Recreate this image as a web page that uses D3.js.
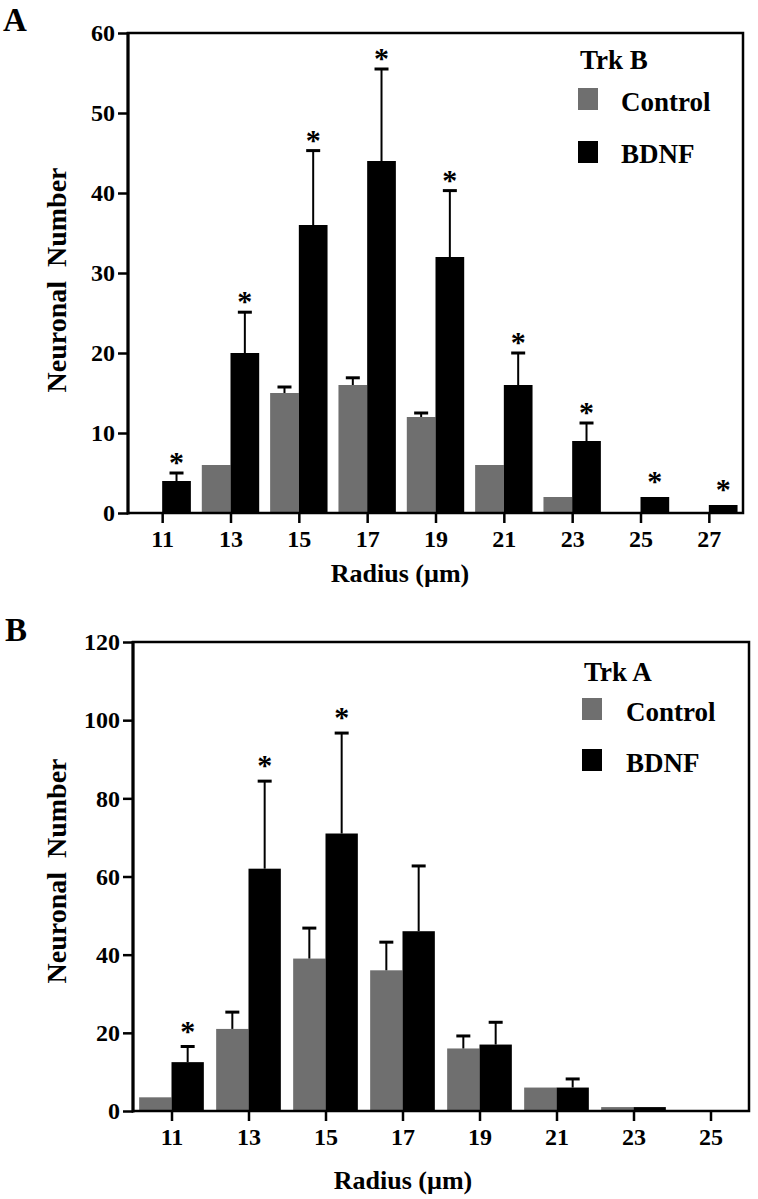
<!DOCTYPE html>
<html><head><meta charset="utf-8">
<script src="https://cdn.jsdelivr.net/npm/d3@7"></script>
<style>body{margin:0;background:#fff}svg{display:block}text{font-family:"Liberation Serif","Times New Roman",serif;font-weight:bold;fill:#000}</style>
</head><body>
<script>
// Panel A (Trk B)
const radiiA = [11,13,15,17,19,21,23,25,27];
const controlA = [0,6,15,16,12,6,2,0,0];
const controlErrA = [0,0,0.75,0.9,0.5,0,0,0,0];
const bdnfA = [4,20,36,44,32,16,9,2,1];
const bdnfErrA = [1,5.1,9.3,11.5,8.3,4,2.25,0,0];
const sigA = [1,1,1,1,1,1,1,1,1];
const yTicksA = [0,10,20,30,40,50,60];

// Panel B (Trk A)
const radiiB = [11,13,15,17,19,21,23,25];
const controlB = [3.5,21,39,36,16,6,1,0];
const controlErrB = [0,4.3,7.8,7.2,3.2,0,0,0];
const bdnfB = [12.5,62,71,46,17,6,1,0];
const bdnfErrB = [4,22.4,25.7,16.7,5.7,2.2,0,0];
const sigB = [1,1,1,0,0,0,0,0];
const yTicksB = [0,20,40,60,80,100,120];

const seriesNames = ["Control","BDNF"];
const colors = {Control:"#6f6f6f", BDNF:"#000"};

const svg = d3.select("body").append("svg").attr("width",758).attr("height",1199);

function panel(o){
  const g = svg.append("g");
  const x = d3.scaleLinear().domain(o.xDomain).range([o.left,o.right]);
  const y = d3.scaleLinear().domain(o.yDomain).range([o.bottom,o.top]);
  const bw = 0.84;
  const rows = o.radii.map((r,i)=>({r, c:o.control[i], ce:o.controlErr[i], b:o.bdnf[i], be:o.bdnfErr[i], s:o.sig[i]}));
  rows.forEach(d=>{
    if(d.c>0) g.append("rect").attr("x",x(d.r-bw)).attr("width",x(d.r)-x(d.r-bw)).attr("y",y(d.c)).attr("height",y(0)-y(d.c)).attr("fill",colors.Control);
    if(d.b>0) g.append("rect").attr("x",x(d.r)).attr("width",x(d.r+bw)-x(d.r)).attr("y",y(d.b)).attr("height",y(0)-y(d.b)).attr("fill",colors.BDNF);
    const eb = (cx,v,e)=>{
      if(e<=0) return;
      g.append("line").attr("x1",cx).attr("x2",cx).attr("y1",y(v)).attr("y2",y(v+e)).attr("stroke","#000").attr("stroke-width",2);
      g.append("line").attr("x1",cx-7).attr("x2",cx+7).attr("y1",y(v+e)).attr("y2",y(v+e)).attr("stroke","#000").attr("stroke-width",3);
    };
    eb(x(d.r-bw/2), d.c, d.ce);
    eb(x(d.r+bw/2), d.b, d.be);
    if(d.s){
      const topY = y(d.b+d.be);
      const off = d.be>0 ? o.starOff : o.starOff+5;
      g.append("text").attr("x",x(d.r+bw/2)).attr("y",topY-off+14).attr("text-anchor","middle").attr("font-size",30).text("*");
    }
  });
  // frame
  g.append("rect").attr("x",o.left).attr("y",o.top).attr("width",o.right-o.left).attr("height",o.bottom-o.top)
    .attr("fill","none").attr("stroke","#000").attr("stroke-width",2.5);
  g.append("line").attr("x1",o.left).attr("x2",o.left).attr("y1",o.top-1).attr("y2",o.bottom+1.5).attr("stroke","#000").attr("stroke-width",3);
  // y axis
  const ya = g.append("g").attr("transform",`translate(${o.left},0)`)
    .call(d3.axisLeft(y).tickValues(o.yTicks).tickSize(10).tickPadding(3).tickFormat(d3.format("d")));
  ya.select(".domain").remove();
  ya.selectAll(".tick line").attr("stroke","#000").attr("stroke-width",2.5);
  ya.selectAll(".tick text").attr("font-size",24).attr("font-family",null).attr("fill","#000");
  // x axis
  const xa = g.append("g").attr("transform",`translate(0,${o.bottom})`)
    .call(d3.axisBottom(x).tickValues(o.radii).tickSize(10).tickPadding(4).tickFormat(d3.format("d")));
  xa.select(".domain").remove();
  xa.selectAll(".tick line").attr("stroke","#000").attr("stroke-width",2.5);
  xa.selectAll(".tick text").attr("font-size",24).attr("font-family",null).attr("fill","#000").attr("dy","0.85em");
  // titles
  g.append("text").attr("transform",`translate(66,${o.ytitleY}) rotate(-90)`).attr("text-anchor","middle")
    .attr("font-size",28).style("white-space","pre").text("Neuronal  Number");
  g.append("text").attr("x",o.xtitleX).attr("y",o.xtitleY).attr("text-anchor","middle").attr("font-size",26).text("Radius (\u00b5m)");
  g.append("text").attr("x",o.letterX).attr("y",o.letterY).attr("font-size",33).text(o.letter);
  // legend
  const L = o.legend;
  g.append("text").attr("x",L.x).attr("y",L.titleY).attr("font-size",27).text(o.trk);
  seriesNames.forEach((s,i)=>{
    g.append("rect").attr("x",L.x-2).attr("y",L.swY[i]).attr("width",20).attr("height",22).attr("fill",colors[s]);
    g.append("text").attr("x",L.tx).attr("y",L.tY[i]).attr("font-size",27).text(s);
  });
}

panel({radii:radiiA, control:controlA, controlErr:controlErrA, bdnf:bdnfA, bdnfErr:bdnfErrA, sig:sigA, yTicks:yTicksA,
  xDomain:[10,28], yDomain:[0,60], left:128, right:743, top:33, bottom:513, starOff:15,
  ytitleY:280, xtitleX:400, xtitleY:582, letter:"A", letterX:3, letterY:31, trk:"Trk B",
  legend:{x:580, titleY:69, swY:[88,141], tx:621, tY:[111,163]}});

panel({radii:radiiB, control:controlB, controlErr:controlErrB, bdnf:bdnfB, bdnfErr:bdnfErrB, sig:sigB, yTicks:yTicksB,
  xDomain:[10,26], yDomain:[0,120], left:133, right:749, top:642, bottom:1111, starOff:20,
  ytitleY:871, xtitleX:403, xtitleY:1189, letter:"B", letterX:5, letterY:641, trk:"Trk A",
  legend:{x:584, titleY:681, swY:[698,749], tx:626, tY:[721,772]}});
</script>
</body></html>
